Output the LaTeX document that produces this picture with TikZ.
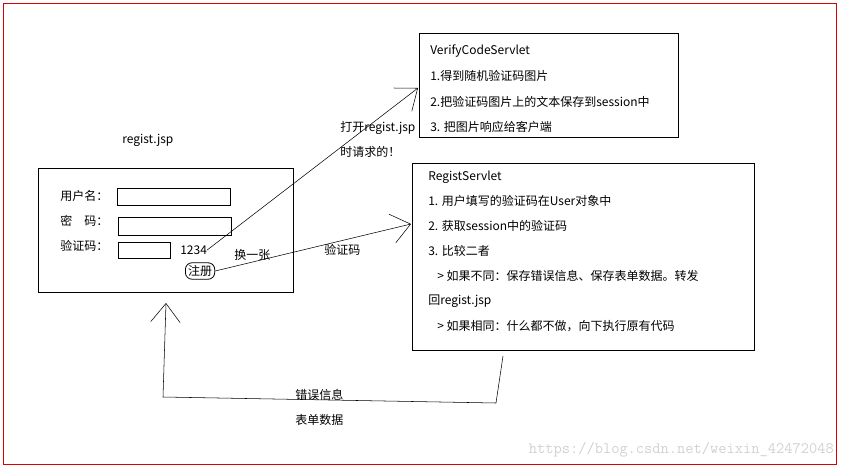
\documentclass[tikz,border=0pt]{standalone}
\usepackage{fontspec}
\setmainfont{Noto Sans CJK SC}
\usetikzlibrary{arrows.meta, positioning}
\tikzset{%
	line/.style={anchor=west, inner sep=0pt, font=\fontsize{9}{10}\selectfont},
	field/.style={draw, semithick, inner sep=0pt},
	barb/.style={-{Straight Barb[length=14pt, width=22pt]}, thin},
}

\begin{document}
\begin{tikzpicture}[x=0.75pt, y=-0.75pt]
	\useasboundingbox (0,0) rectangle (845,471);
	% red frame
	\draw[red!85!black] (3,3) rectangle (836,464);
	
	% VerifyCodeServlet box
	\draw (419,33) rectangle (678,137);
	\node[line] (v0) at (430,51) {VerifyCodeServlet};
	\node[line] (v1) at (430,76) {1.得到随机验证码图片};
	\node[line] (v2) at (430,102) {2.把验证码图片上的文本保存到session中};
	\node[line] (v3) at (430,127) {3. 把图片响应给客户端};
	\coordinate (vin) at (418,88);
	
	% form
	\node[line] (title) at (122,140) {regist.jsp};
	\draw[semithick] (38,168) rectangle (293,292);
	\node[line] (user) at (60,196) {用户名：};
	\node[line] (pwd) at (60,221) {密\quad 码：};
	\node[line] (code) at (60,246) {验证码：};
	\draw[field] (117,188) rectangle (230,205);
	\draw[field] (118,217) rectangle (231,235);
	\draw[field] (118,242) rectangle (170,258);
	\node[line] (num) at (180,250) {1234};
	\node[line] (swap) at (234,255) {换一张};
	\node[draw, semithick, rounded corners=5pt, line, inner sep=2pt] (reg) at (185,271) {注册};
	
	% RegistServlet box
	\draw (412,163) rectangle (754,350);
	\node[line] (r0) at (428,177) {RegistServlet};
	\node[line] (r1) at (428,201) {1. 用户填写的验证码在User对象中};
	\node[line] (r2) at (428,226) {2. 获取session中的验证码};
	\node[line] (r3) at (428,251) {3. 比较二者};
	\node[line] (r4) at (437,276) {> 如果不同：保存错误信息、保存表单数据。转发};
	\node[line] (r5) at (428,301) {回regist.jsp};
	\node[line] (r6) at (437,326) {> 如果相同：什么都不做，向下执行原有代码};
	\coordinate (rin) at (411,224);
	
	% arrows
	\draw[barb] (num.east) -- (vin);
	\node[line] (open) at (340,128) {打开regist.jsp};
	\node[line] (when) at (340,152) {时请求的！};
	\draw[barb] (reg.east) -- (rin);
	\node[line] (vc) at (324,250) {验证码};
	
	% back path
	\coordinate (b1) at (503,356);
	\coordinate (b2) at (496,403);
	\coordinate (b3) at (163,397);
	\coordinate (b4) at (166,303);
	\draw[barb] (b1) -- (b2) -- (b3) -- (b4);
	\node[line] (err) at (295,395) {错误信息};
	\node[line] (data) at (295,420) {表单数据};
	
	% watermark
	\node[line, anchor=east, text=black!18, font=\ttfamily\fontsize{12}{12}\selectfont] (wm) at (834,450) {https://blog.csdn.net/weixin\_42472048};
\end{tikzpicture}
\end{document}
